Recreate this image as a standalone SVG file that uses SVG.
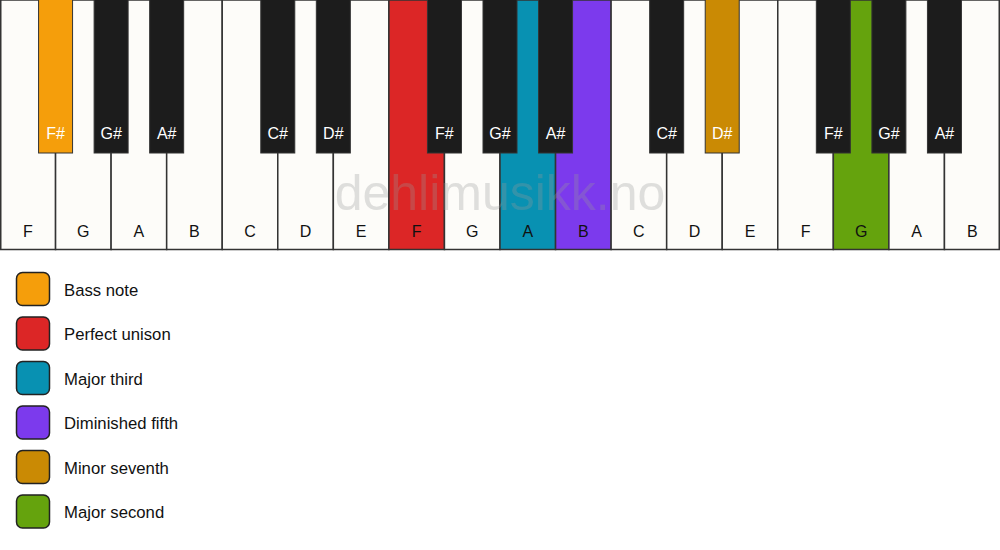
<svg xmlns="http://www.w3.org/2000/svg" width="1000" height="550" viewBox="0 0 1000 550">
<style>
.w{fill:#fdfcf9;stroke:#333;stroke-width:1.5}
.b{fill:#1c1c1c;stroke:#333;stroke-width:1}
.wt{font-family:"Liberation Sans",Arial,sans-serif;font-size:16px;fill:#111;text-anchor:middle}
.bt{font-family:"Liberation Sans",Arial,sans-serif;font-size:16px;fill:#fff;text-anchor:middle}
.lg{stroke:#222;stroke-width:1.5}
.lt{font-family:"Liberation Sans",Arial,sans-serif;font-size:16.7px;fill:#111}
.wm{font-family:"Liberation Sans",Arial,sans-serif;font-size:50px;fill:#999;fill-opacity:0.3;text-anchor:middle}
</style>
<rect width="1000" height="550" fill="#fff"/>
<g id="white-keys">
<g id="w0"><rect class="w" x="0.75" y="0" width="54.81" height="249.5"/><text class="wt" x="27.78" y="237">F</text></g>
<g id="w1"><rect class="w" x="55.56" y="0" width="55.56" height="249.5"/><text class="wt" x="83.33" y="237">G</text></g>
<g id="w2"><rect class="w" x="111.11" y="0" width="55.56" height="249.5"/><text class="wt" x="138.89" y="237">A</text></g>
<g id="w3"><rect class="w" x="166.67" y="0" width="55.56" height="249.5"/><text class="wt" x="194.44" y="237">B</text></g>
<g id="w4"><rect class="w" x="222.22" y="0" width="55.56" height="249.5"/><text class="wt" x="250" y="237">C</text></g>
<g id="w5"><rect class="w" x="277.78" y="0" width="55.56" height="249.5"/><text class="wt" x="305.56" y="237">D</text></g>
<g id="w6"><rect class="w" x="333.33" y="0" width="55.56" height="249.5"/><text class="wt" x="361.11" y="237">E</text></g>
<g id="w7"><rect class="w" x="388.89" y="0" width="55.56" height="249.5" style="fill:#dc2626"/><text class="wt" x="416.67" y="237">F</text></g>
<g id="w8"><rect class="w" x="444.44" y="0" width="55.56" height="249.5"/><text class="wt" x="472.22" y="237">G</text></g>
<g id="w9"><rect class="w" x="500" y="0" width="55.56" height="249.5" style="fill:#0891b2"/><text class="wt" x="527.78" y="237">A</text></g>
<g id="w10"><rect class="w" x="555.56" y="0" width="55.56" height="249.5" style="fill:#7c3aed"/><text class="wt" x="583.33" y="237">B</text></g>
<g id="w11"><rect class="w" x="611.11" y="0" width="55.56" height="249.5"/><text class="wt" x="638.89" y="237">C</text></g>
<g id="w12"><rect class="w" x="666.67" y="0" width="55.56" height="249.5"/><text class="wt" x="694.44" y="237">D</text></g>
<g id="w13"><rect class="w" x="722.22" y="0" width="55.56" height="249.5"/><text class="wt" x="750" y="237">E</text></g>
<g id="w14"><rect class="w" x="777.78" y="0" width="55.56" height="249.5"/><text class="wt" x="805.56" y="237">F</text></g>
<g id="w15"><rect class="w" x="833.33" y="0" width="55.56" height="249.5" style="fill:#65a30d"/><text class="wt" x="861.11" y="237">G</text></g>
<g id="w16"><rect class="w" x="888.89" y="0" width="55.56" height="249.5"/><text class="wt" x="916.67" y="237">A</text></g>
<g id="w17"><rect class="w" x="944.44" y="0" width="54.81" height="249.5"/><text class="wt" x="972.22" y="237">B</text></g>
</g>
<text class="wm" x="500" y="210">dehlimusikk.no</text>
<g id="black-keys">
<g id="b1"><rect class="b" x="38.56" y="-1" width="34" height="154" style="fill:#f59e0b"/><text class="bt" x="55.56" y="139">F#</text></g>
<g id="b2"><rect class="b" x="94.11" y="-1" width="34" height="154"/><text class="bt" x="111.11" y="139">G#</text></g>
<g id="b3"><rect class="b" x="149.67" y="-1" width="34" height="154"/><text class="bt" x="166.67" y="139">A#</text></g>
<g id="b5"><rect class="b" x="260.78" y="-1" width="34" height="154"/><text class="bt" x="277.78" y="139">C#</text></g>
<g id="b6"><rect class="b" x="316.33" y="-1" width="34" height="154"/><text class="bt" x="333.33" y="139">D#</text></g>
<g id="b8"><rect class="b" x="427.44" y="-1" width="34" height="154"/><text class="bt" x="444.44" y="139">F#</text></g>
<g id="b9"><rect class="b" x="483" y="-1" width="34" height="154"/><text class="bt" x="500" y="139">G#</text></g>
<g id="b10"><rect class="b" x="538.56" y="-1" width="34" height="154"/><text class="bt" x="555.56" y="139">A#</text></g>
<g id="b12"><rect class="b" x="649.67" y="-1" width="34" height="154"/><text class="bt" x="666.67" y="139">C#</text></g>
<g id="b13"><rect class="b" x="705.22" y="-1" width="34" height="154" style="fill:#ca8a04"/><text class="bt" x="722.22" y="139">D#</text></g>
<g id="b15"><rect class="b" x="816.33" y="-1" width="34" height="154"/><text class="bt" x="833.33" y="139">F#</text></g>
<g id="b16"><rect class="b" x="871.89" y="-1" width="34" height="154"/><text class="bt" x="888.89" y="139">G#</text></g>
<g id="b17"><rect class="b" x="927.44" y="-1" width="34" height="154"/><text class="bt" x="944.44" y="139">A#</text></g>
</g>
<g id="legend">
<g id="l1"><rect class="lg" x="16.5" y="272.5" width="33" height="33" rx="6" fill="#f59e0b"/><text class="lt" x="64" y="295.5">Bass note</text></g>
<g id="l2"><rect class="lg" x="16.5" y="317" width="33" height="33" rx="6" fill="#dc2626"/><text class="lt" x="64" y="340">Perfect unison</text></g>
<g id="l3"><rect class="lg" x="16.5" y="361.5" width="33" height="33" rx="6" fill="#0891b2"/><text class="lt" x="64" y="384.5">Major third</text></g>
<g id="l4"><rect class="lg" x="16.5" y="406" width="33" height="33" rx="6" fill="#7c3aed"/><text class="lt" x="64" y="429">Diminished fifth</text></g>
<g id="l5"><rect class="lg" x="16.5" y="450.5" width="33" height="33" rx="6" fill="#ca8a04"/><text class="lt" x="64" y="473.5">Minor seventh</text></g>
<g id="l6"><rect class="lg" x="16.5" y="495" width="33" height="33" rx="6" fill="#65a30d"/><text class="lt" x="64" y="518">Major second</text></g>
</g>
</svg>
